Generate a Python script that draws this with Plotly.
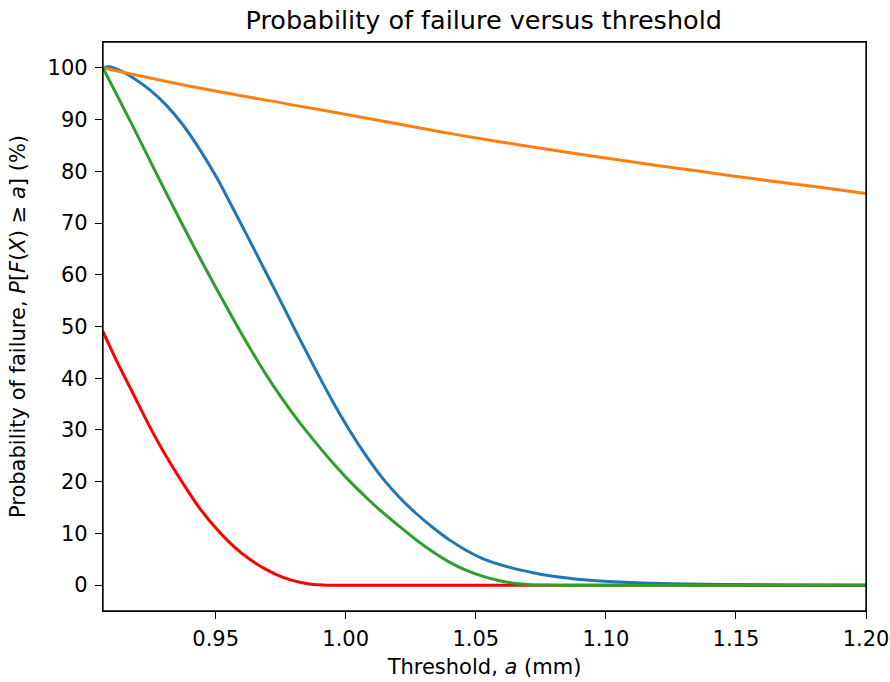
import plotly.graph_objects as go

# Blue series
blue_x = [0.9067, 0.9092, 0.9131, 0.9182, 0.9246, 0.9310, 0.9374, 0.9438, 0.9503, 0.9567,
          0.9631, 0.9695, 0.9759, 0.9823, 0.9887, 0.9951, 1.0015, 1.0080, 1.0143, 1.0208,
          1.0272, 1.0336, 1.0400, 1.0464, 1.0528, 1.0592, 1.0656, 1.0720, 1.0784, 1.0880,
          1.0976, 1.1100, 1.1250, 1.1450, 1.1700, 1.2000]
blue_y = [100.0, 100.2, 99.5, 98.1, 95.8, 92.8, 89.0, 84.3, 78.9, 72.8,
          66.6, 60.3, 54.0, 47.6, 41.4, 35.4, 29.9, 24.9, 20.6, 16.9,
          13.8, 11.1, 8.7, 6.7, 5.1, 4.0, 3.1, 2.4, 1.8, 1.2,
          0.8, 0.5, 0.25, 0.1, 0.03, 0.0]

# Orange series
orange_x = [0.9067, 0.9438, 0.9823, 1.0208, 1.0438, 1.0669, 1.0900, 1.1131, 1.1362, 1.1592, 1.1823, 1.2000]
orange_y = [100.0, 96.1, 92.6, 89.1, 87.0, 85.1, 83.3, 81.6, 80.0, 78.4, 76.9, 75.7]

# Green series
green_x = [0.9067, 0.9182, 0.9310, 0.9438, 0.9567, 0.9631, 0.9695, 0.9759, 0.9823, 0.9887,
           0.9951, 1.0015, 1.0080, 1.0143, 1.0208, 1.0272, 1.0336, 1.0400, 1.0464, 1.0528,
           1.0592, 1.0656, 1.0720, 1.0800, 1.0900, 1.1100, 1.1400, 1.1700, 1.2000]
green_y = [100.0, 88.7, 75.8, 63.4, 51.5, 45.9, 40.6, 35.8, 31.4, 27.4,
           23.6, 20.1, 16.9, 14.0, 11.3, 8.7, 6.4, 4.4, 2.85, 1.7,
           0.85, 0.3, 0.05, 0.0, 0.0, 0.0, 0.0, 0.0, 0.0]

# Red series
red_x = [0.9067, 0.9118, 0.9182, 0.9246, 0.9310, 0.9374, 0.9438, 0.9503, 0.9567, 0.9631,
         0.9695, 0.9759, 0.9823, 0.9874, 0.9920, 1.0000, 1.0200, 1.0500, 1.0800, 1.1200,
         1.1600, 1.2000]
red_y = [49.0, 43.5, 37.1, 30.7, 24.9, 19.7, 14.9, 10.9, 7.6, 5.0,
         3.0, 1.5, 0.55, 0.12, 0.0, 0.0, 0.0, 0.0, 0.0, 0.0,
         0.0, 0.0]

x_ticks = [0.95, 1.00, 1.05, 1.10, 1.15, 1.20]
y_ticks = [0, 10, 20, 30, 40, 50, 60, 70, 80, 90, 100]

fig = go.Figure()
for xs, ys, col in [(blue_x, blue_y, "#1f77b4"), (orange_x, orange_y, "#ff7f0e"),
                    (red_x, red_y, "#ff0000"), (green_x, green_y, "#2ca02c")]:
    fig.add_trace(go.Scatter(x=xs, y=ys, mode="lines",
                             line=dict(color=col, width=3, shape="spline", smoothing=1.0),
                             showlegend=False, hoverinfo="skip"))

font = dict(family="DejaVu Sans", size=21, color="#000000")
axis_common = dict(showline=True, linecolor="#000000", linewidth=1.3, mirror=True,
                   ticks="outside", ticklen=7, tickwidth=1.3, tickcolor="#000000",
                   showgrid=False, zeroline=False, tickfont=font, automargin=False)

fig.update_layout(
    width=890, height=682,
    margin=dict(l=103, r=24, t=42, b=71),
    paper_bgcolor="#ffffff", plot_bgcolor="#ffffff",
    font=font,
    title=dict(text="Probability of failure versus threshold", x=0.5435, xanchor="center",
               y=0.971, yanchor="middle", font=dict(family="DejaVu Sans", size=25.5, color="#000000")),
    xaxis=dict(range=[0.9067, 1.20], tickvals=x_ticks, tickformat=".2f", ticklabelstandoff=2,
               title=dict(text="Threshold, <i>a</i> (mm)", font=font, standoff=8), **axis_common),
    yaxis=dict(range=[-5, 105], tickvals=y_ticks, ticklabelstandoff=3,
               title=dict(text="Probability of failure, <i>P</i>[<i>F</i>(<i>X</i>) ≥ <i>a</i>] (%)",
                          font=font, standoff=16), **axis_common),
    shapes=[dict(type="rect", xref="paper", yref="paper", x0=0, y0=0, x1=1, y1=1,
                 line=dict(color="#000000", width=1.3), fillcolor="rgba(0,0,0,0)", layer="above")],
)

fig.write_html("out.html", config={"displayModeBar": False})

# remove default page margin so the figure sits at the window's top-left corner
with open("out.html", "r", encoding="utf-8") as f:
    html = f.read()
html = html.replace("<head>", "<head><style>html,body{margin:0;padding:0;}</style>", 1)
with open("out.html", "w", encoding="utf-8") as f:
    f.write(html)
